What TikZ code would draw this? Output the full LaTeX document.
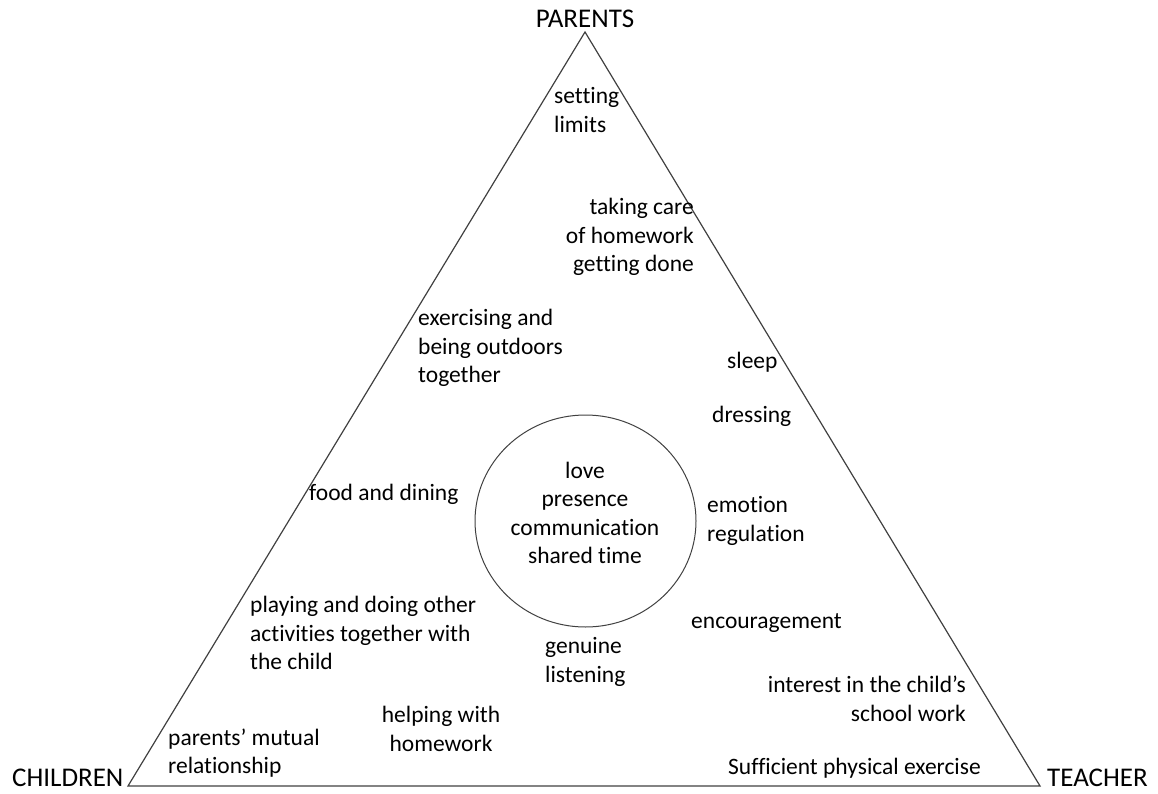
\documentclass[tikz,border=0pt]{standalone}
\usepackage{fontspec}
\setmainfont{Carlito}[Ligatures={NoCommon}]
\usetikzlibrary{shapes.geometric}
\begin{document}
\begin{tikzpicture}[x=1pt,y=-1pt,
  txt/.style={inner sep=0pt,font=\fontsize{23.5}{28.5}\selectfont},
  lbl/.style={inner sep=0pt,font=\fontsize{27}{30}\selectfont},
  edge/.style={draw=black!75,line width=1.2pt}]
\useasboundingbox (0,0) rectangle (1158,794);
\coordinate (P) at (585,32);
\coordinate (C) at (128,786);
\coordinate (T) at (1040,786);
\draw[edge] (P) -- (C) -- (T) -- cycle;
\node[draw=black!75,line width=1pt,ellipse,minimum width=221pt,minimum height=212pt,inner sep=0pt] (core) at (585.5,521) {};
\node[lbl] (parents) at (585,19) {PARENTS};
\node[lbl,anchor=west] (children) at (12,778) {CHILDREN};
\node[lbl,anchor=west] (teacher) at (1047,778) {TEACHER};
\node[txt,align=center] (center) at (585,513) {love\\presence\\communication\\shared time};
\node[txt,anchor=west,align=left] (limits) at (554,110) {setting\\limits};
\node[txt,anchor=east,align=right] (homework) at (694,237) {taking care\\of homework\\getting done};
\node[txt,anchor=west,align=left] (outdoors) at (418,348) {exercising and\\being outdoors\\together};
\node[txt,anchor=west] (sleep) at (727,362) {sleep};
\node[txt,anchor=west] (dressing) at (712,416) {dressing};
\node[txt,anchor=west] (food) at (309,494) {food and dining};
\node[txt,anchor=west,align=left] (emotion) at (707,521) {emotion\\regulation};
\node[txt,anchor=west,align=left] (playing) at (250,633) {playing and doing other\\activities together with\\the child};
\node[txt,anchor=west] (encourage) at (691,623) {encouragement};
\node[txt,anchor=west,align=left] (listening) at (545,662) {genuine\\listening};
\node[txt,anchor=east,align=right] (interest) at (966,699) {interest in the child’s\\school work};
\node[txt,align=center] (helping) at (441,729) {helping with\\homework};
\node[txt,anchor=west,align=left] (mutual) at (168,753) {parents’ mutual\\relationship};
\node[txt,anchor=west] (exercise) at (728,768) {Sufficient physical exercise};
\end{tikzpicture}
\end{document}
